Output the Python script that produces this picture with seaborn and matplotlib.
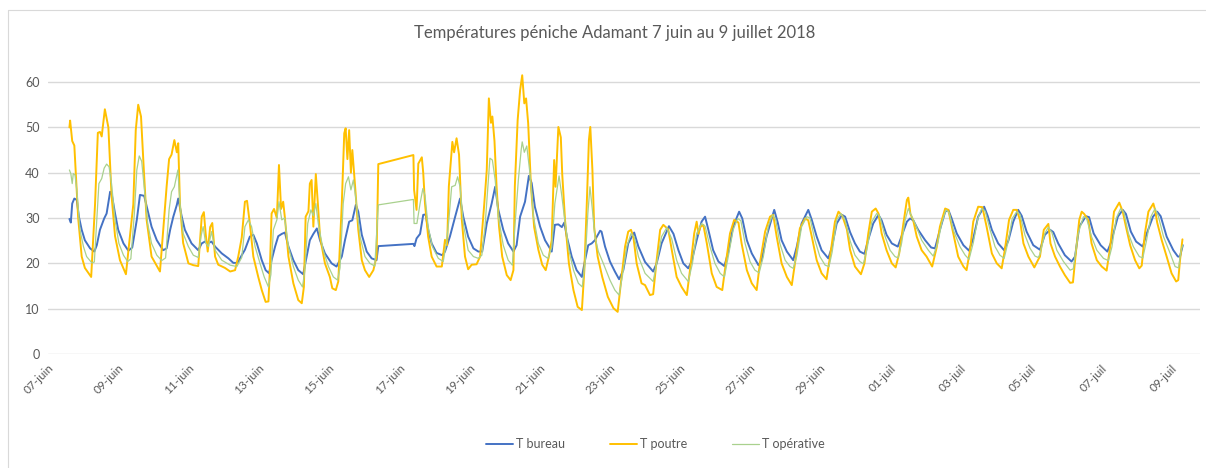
"""Températures péniche Adamant, 7 juin au 9 juillet 2018 (courbes de type Excel)."""
import matplotlib

matplotlib.use("Agg")
import matplotlib.pyplot as plt
import pandas as pd
import seaborn as sns
from matplotlib.lines import Line2D

# jours écoulés depuis le 07-06-2018 00:00
bureau_jours = [
    0.61, 0.65, 0.69, 0.75, 0.82, 0.88, 0.96, 1.05, 1.20, 1.32, 1.39, 1.48, 1.60, 1.67, 1.77, 1.81,
    1.91, 2.00, 2.15, 2.29, 2.40, 2.53, 2.62, 2.74, 2.86, 2.95, 3.10, 3.28, 3.38, 3.48, 3.57, 3.67,
    3.71, 3.81, 3.90, 4.09, 4.28, 4.38, 4.47, 4.57, 4.66, 4.76, 4.95, 5.14, 5.28, 5.40, 5.52, 5.61,
    5.75, 5.85, 5.95, 6.09, 6.20, 6.30, 6.37, 6.47, 6.56, 6.66, 6.75, 6.85, 6.99, 7.13, 7.27, 7.37,
    7.46, 7.56, 7.66, 7.75, 7.89, 8.08, 8.22, 8.37, 8.46, 8.58, 8.67, 8.77, 8.84, 8.94, 9.08, 9.22,
    9.36, 9.41, 10.41, 10.44, 10.50, 10.60, 10.69, 10.76, 10.83, 10.93, 11.07, 11.23, 11.31, 11.45,
    11.60, 11.74, 11.83, 11.97, 12.12, 12.26, 12.37, 12.50, 12.64, 12.74, 12.83, 12.97, 13.11, 13.26,
    13.35, 13.45, 13.59, 13.70, 13.78, 13.87, 14.02, 14.16, 14.30, 14.35, 14.44, 14.54, 14.64, 14.71,
    14.78, 14.92, 15.06, 15.21, 15.30, 15.39, 15.49, 15.58, 15.73, 15.77, 15.87, 16.01, 16.15, 16.27,
    16.39, 16.53, 16.70, 16.82, 17.01, 17.24, 17.34, 17.48, 17.69, 17.82, 17.96, 18.10, 18.24, 18.34,
    18.48, 18.62, 18.72, 18.81, 18.95, 19.10, 19.27, 19.38, 19.52, 19.69, 19.78, 19.91, 20.05, 20.24,
    20.33, 20.47, 20.62, 20.69, 20.79, 20.90, 21.05, 21.23, 21.33, 21.47, 21.66, 21.76, 21.90, 22.04,
    22.23, 22.33, 22.47, 22.62, 22.71, 22.85, 22.99, 23.13, 23.26, 23.37, 23.51, 23.66, 23.75, 23.89,
    24.04, 24.21, 24.32, 24.47, 24.56, 24.65, 24.79, 24.99, 25.16, 25.27, 25.41, 25.56, 25.65, 25.74,
    25.89, 26.08, 26.24, 26.36, 26.50, 26.67, 26.77, 26.89, 27.07, 27.24, 27.36, 27.50, 27.64, 27.74,
    27.88, 28.07, 28.26, 28.40, 28.55, 28.64, 28.78, 28.97, 29.16, 29.26, 29.38, 29.57, 29.66, 29.79,
    29.99, 30.18, 30.28, 30.48, 30.62, 30.71, 30.85, 31.00, 31.19, 31.29, 31.48, 31.60, 31.70, 31.87,
    32.06, 32.19, 32.25, 32.33,
]
bureau_temp = [
    29.8, 29.0, 33.2, 34.3, 34.0, 30.3, 27.4, 25.1, 23.3, 22.6, 24.0, 27.4, 29.9, 31.0, 35.8, 35.5,
    31.0, 27.4, 24.4, 22.8, 23.5, 29.6, 35.1, 34.9, 31.0, 28.1, 25.1, 22.9, 23.3, 27.4, 30.3, 32.9,
    34.3, 30.3, 27.4, 24.4, 22.9, 24.4, 24.8, 24.5, 24.8, 23.7, 22.2, 21.1, 20.1, 20.1, 21.8, 23.0,
    25.9, 26.3, 24.4, 20.7, 18.5, 17.8, 20.7, 23.7, 26.0, 26.5, 26.8, 23.7, 20.7, 18.5, 17.6, 21.5,
    25.1, 26.5, 27.7, 25.1, 22.2, 20.0, 19.3, 21.5, 25.1, 29.2, 29.5, 32.9, 31.4, 26.3, 22.6, 21.1,
    20.7, 23.8, 24.3, 23.8, 25.5, 26.5, 30.7, 30.8, 27.4, 24.4, 22.3, 21.8, 22.6, 25.9,
    30.3, 34.3, 30.3, 25.9, 23.3, 22.6, 22.6, 28.8, 33.2, 36.9, 31.8, 27.4, 24.4, 22.6,
    24.0, 30.3, 33.6, 39.3, 37.7, 32.5, 28.1, 25.1, 23.3, 22.6, 28.5, 28.6, 28.0, 29.0,
    25.9, 21.5, 18.5, 17.0, 20.7, 24.0, 24.4, 25.1, 27.2, 27.0, 23.7, 20.4, 18.2, 16.5,
    18.5, 24.4, 26.8, 23.7, 20.3, 18.2, 20.0, 24.4, 28.2, 26.5, 22.9, 20.0, 18.9, 20.5,
    25.1, 29.2, 30.3, 27.5, 22.9, 20.4, 19.4, 22.5, 28.1, 31.4, 29.9, 25.1, 22.2, 19.6,
    20.7, 25.9, 29.9, 31.8, 29.0, 25.1, 22.6, 20.7, 23.6, 28.8, 31.8, 29.6, 25.9, 22.9,
    21.1, 23.5, 28.8, 30.7, 30.3, 26.9, 24.4, 22.6, 22.1, 25.3, 28.8, 30.7, 29.5, 26.3,
    24.4, 23.7, 26.0, 29.2, 29.9, 29.5, 27.4, 25.1, 23.5, 23.3, 27.4, 31.4, 31.8, 30.0,
    26.6, 24.0, 22.8, 25.5, 30.3, 32.5, 30.5, 27.4, 24.4, 22.9, 25.0, 29.2, 31.8, 30.5,
    27.0, 24.0, 23.0, 26.3, 27.4, 26.9, 24.4, 21.8, 20.4, 21.5, 28.1, 30.4, 30.2, 26.6,
    24.0, 22.6, 24.5, 30.3, 31.8, 30.9, 27.0, 24.8, 23.7, 26.3, 30.3, 31.4, 30.4, 25.9,
    22.9, 21.5, 21.5, 24.0,
]

poutre_jours = [
    0.61, 0.63, 0.69, 0.75, 0.86, 0.96, 1.05, 1.23, 1.34, 1.42, 1.48, 1.53, 1.62, 1.72, 1.81, 1.91,
    2.05, 2.22, 2.43, 2.50, 2.57, 2.65, 2.73, 2.81, 2.95, 3.19, 3.38, 3.45, 3.52, 3.60, 3.67, 3.71,
    3.76, 3.85, 4.00, 4.14, 4.28, 4.38, 4.44, 4.49, 4.55, 4.62, 4.68, 4.76, 4.85, 5.04, 5.19, 5.33,
    5.42, 5.52, 5.61, 5.67, 5.75, 5.85, 5.99, 6.09, 6.20, 6.28, 6.32, 6.37, 6.44, 6.52, 6.58, 6.64,
    6.70, 6.75, 6.85, 6.99, 7.13, 7.23, 7.29, 7.34, 7.42, 7.46, 7.51, 7.56, 7.63, 7.69, 7.75, 7.89,
    8.03, 8.10, 8.20, 8.27, 8.37, 8.44, 8.48, 8.53, 8.58, 8.63, 8.67, 8.75, 8.84, 8.94, 9.03, 9.15,
    9.27, 9.36, 9.41, 10.41, 10.43, 10.50, 10.55, 10.65, 10.69, 10.74, 10.83, 10.93, 11.07, 11.22,
    11.31, 11.37, 11.42, 11.52, 11.57, 11.64, 11.71, 11.79, 11.88, 11.97, 12.07, 12.21, 12.31, 12.43,
    12.50, 12.56, 12.62, 12.66, 12.72, 12.78, 12.85, 12.94, 13.07, 13.18, 13.26, 13.30, 13.38, 13.45,
    13.51, 13.57, 13.62, 13.68, 13.76, 13.85, 13.97, 14.08, 14.18, 14.27, 14.35, 14.42, 14.46, 14.54,
    14.61, 14.65, 14.73, 14.84, 14.97, 15.09, 15.21, 15.28, 15.35, 15.41, 15.45, 15.51, 15.56, 15.66,
    15.79, 15.95, 16.11, 16.23, 16.32, 16.44, 16.53, 16.61, 16.68, 16.77, 16.91, 17.01, 17.15, 17.24,
    17.34, 17.44, 17.53, 17.67, 17.77, 17.91, 18.05, 18.20, 18.29, 18.41, 18.48, 18.53, 18.58, 18.67,
    18.77, 18.91, 19.05, 19.21, 19.31, 19.43, 19.55, 19.67, 19.76, 19.91, 20.05, 20.19, 20.28, 20.43,
    20.57, 20.66, 20.76, 20.90, 21.05, 21.19, 21.28, 21.42, 21.57, 21.66, 21.76, 21.90, 22.04, 22.18,
    22.28, 22.42, 22.52, 22.63, 22.76, 22.85, 22.99, 23.16, 23.26, 23.37, 23.47, 23.58, 23.66, 23.75,
    23.89, 24.04, 24.15, 24.25, 24.37, 24.47, 24.51, 24.57, 24.65, 24.75, 24.89, 25.03, 25.19, 25.32,
    25.41, 25.56, 25.65, 25.79, 25.93, 26.08, 26.17, 26.27, 26.36, 26.50, 26.62, 26.74, 26.89, 27.03,
    27.17, 27.26, 27.38, 27.50, 27.60, 27.69, 27.79, 27.93, 28.10, 28.21, 28.26, 28.37, 28.50, 28.56,
    28.69, 28.83, 28.97, 29.12, 29.20, 29.29, 29.38, 29.45, 29.52, 29.64, 29.73, 29.88, 30.02, 30.16,
    30.26, 30.37, 30.52, 30.62, 30.71, 30.83, 30.97, 31.09, 31.16, 31.25, 31.35, 31.49, 31.54, 31.60,
    31.73, 31.87, 32.01, 32.14, 32.20, 32.25, 32.32,
]
poutre_temp = [
    50.0, 51.5, 47.0, 46.0, 30.0, 21.5, 19.0, 17.0, 33.0, 48.8, 49.0, 48.0, 54.0, 50.0, 35.0, 26.0,
    20.7, 17.6, 33.0, 49.4, 55.0, 52.4, 40.6, 29.6, 21.5, 18.2, 37.0, 43.0, 44.0, 47.2, 44.5, 46.5,
    33.0, 24.5, 20.0, 19.6, 19.4, 30.3, 31.3, 26.7, 22.6, 28.0, 28.9, 21.5, 19.7, 19.0, 18.2, 18.5,
    21.5, 25.7, 33.6, 33.8, 28.8, 21.5, 17.0, 14.1, 11.5, 11.6, 18.5, 31.0, 32.0, 30.0, 41.7, 32.0,
    33.6, 30.0, 21.5, 15.6, 11.9, 11.2, 14.8, 30.3, 31.5, 37.6, 38.4, 28.1, 39.7, 33.0, 25.9, 20.0,
    17.0, 14.5, 14.1, 16.0, 33.2, 48.7, 49.8, 43.0, 49.4, 40.0, 45.0, 36.9, 27.4, 20.7, 18.5, 17.0,
    18.5, 21.5, 41.9, 43.9, 36.2, 31.8, 42.0, 43.4, 40.0, 33.2, 25.9, 21.5, 19.3, 19.3,
    25.2, 24.0, 37.0, 46.8, 44.5, 47.6, 44.0, 29.6, 21.5, 18.7, 19.7, 19.8, 21.5, 33.2,
    40.6, 56.4, 51.0, 52.4, 47.0, 36.9, 28.1, 21.5, 17.4, 16.3, 18.5, 37.0, 51.6, 58.2,
    61.5, 55.3, 56.4, 50.9, 36.9, 28.0, 23.0, 19.7, 18.5, 21.5, 25.1, 42.8, 36.9, 50.1,
    47.8, 39.7, 29.6, 20.0, 14.1, 10.4, 9.7, 18.5, 33.2, 47.2, 50.1, 40.6, 28.0, 21.5,
    17.0, 12.6, 10.1, 9.3, 15.6, 23.7, 27.0, 27.4, 25.7, 20.0, 15.6, 15.2, 13.0, 13.2,
    20.7, 27.4, 28.5, 27.5, 23.0, 17.0, 14.8, 13.0, 18.5, 26.6, 29.2, 26.5, 28.0, 28.5,
    24.4, 17.8, 14.8, 14.1, 20.0, 26.6, 29.6, 29.0, 24.4, 18.5, 15.6, 14.1, 20.0, 27.0,
    30.3, 30.7, 25.9, 20.0, 17.0, 15.2, 20.0, 27.7, 29.9, 29.5, 25.9, 20.7, 17.8, 16.5,
    21.5, 29.2, 31.4, 30.5, 27.5, 23.0, 19.3, 17.6, 20.0, 26.6, 31.4, 32.1, 31.0, 26.6,
    22.9, 20.0, 19.1, 22.2, 28.8, 34.0, 34.5, 30.9, 29.5, 25.9, 22.9, 21.5, 19.3, 23.6,
    28.1, 32.1, 31.8, 26.6, 21.5, 19.3, 18.5, 23.0, 29.2, 32.5, 32.4, 28.1, 22.2, 20.0,
    18.9, 23.0, 29.6, 31.8, 31.8, 29.6, 24.4, 21.5, 19.1, 20.8, 21.5, 27.4, 28.7, 24.4,
    21.5, 19.3, 17.4, 15.7, 15.8, 22.9, 29.6, 31.4, 30.9, 29.5, 24.4, 20.7, 19.3, 18.4,
    23.6, 31.4, 33.4, 31.4, 28.1, 24.0, 20.7, 18.9, 19.5, 26.6, 31.4, 33.2, 31.8, 29.0,
    25.1, 21.5, 17.8, 16.0, 16.3, 20.7, 25.3,
]

operative_jours = [
    0.61, 0.65, 0.69, 0.72, 0.77, 0.82, 0.91, 1.01, 1.10, 1.25, 1.32, 1.39, 1.45, 1.53, 1.60, 1.67,
    1.74, 1.81, 1.91, 2.02, 2.15, 2.27, 2.36, 2.46, 2.53, 2.60, 2.67, 2.74, 2.84, 2.95, 3.10, 3.24,
    3.35, 3.45, 3.52, 3.60, 3.70, 3.76, 3.85, 4.00, 4.14, 4.28, 4.36, 4.42, 4.49, 4.57, 4.66, 4.76,
    4.95, 5.19, 5.38, 5.52, 5.61, 5.71, 5.80, 5.90, 6.04, 6.16, 6.28, 6.35, 6.42, 6.52, 6.58, 6.66,
    6.74, 6.85, 6.99, 7.13, 7.25, 7.32, 7.40, 7.49, 7.56, 7.63, 7.70, 7.84, 7.99, 8.13, 8.25, 8.32,
    8.41, 8.48, 8.56, 8.63, 8.70, 8.77, 8.89, 9.03, 9.17, 9.31, 9.41, 10.41, 10.43, 10.51, 10.60,
    10.68, 10.74, 10.83, 10.95, 11.12, 11.26, 11.36, 11.42, 11.50, 11.60, 11.67, 11.74, 11.83, 11.97,
    12.12, 12.26, 12.36, 12.45, 12.53, 12.59, 12.66, 12.74, 12.83, 12.97, 13.11, 13.23, 13.30, 13.40,
    13.48, 13.51, 13.57, 13.64, 13.73, 13.83, 13.97, 14.11, 14.24, 14.35, 14.44, 14.56, 14.64, 14.71,
    14.84, 14.97, 15.11, 15.22, 15.30, 15.38, 15.44, 15.51, 15.58, 15.68, 15.82, 16.01, 16.15, 16.27,
    16.36, 16.49, 16.61, 16.70, 16.82, 17.01, 17.24, 17.34, 17.48, 17.63, 17.77, 17.91, 18.05, 18.24,
    18.36, 18.48, 18.62, 18.72, 18.86, 19.00, 19.15, 19.27, 19.38, 19.52, 19.65, 19.74, 19.86, 20.00,
    20.14, 20.26, 20.38, 20.52, 20.64, 20.73, 20.85, 21.00, 21.14, 21.23, 21.33, 21.47, 21.62, 21.71,
    21.85, 21.99, 22.14, 22.25, 22.34, 22.47, 22.59, 22.71, 22.85, 22.99, 23.13, 23.23, 23.33, 23.47,
    23.61, 23.70, 23.85, 23.99, 24.13, 24.22, 24.32, 24.42, 24.51, 24.61, 24.72, 24.89, 25.08, 25.22,
    25.35, 25.46, 25.58, 25.67, 25.79, 25.98, 26.13, 26.24, 26.36, 26.49, 26.60, 26.70, 26.84, 26.98,
    27.12, 27.24, 27.36, 27.47, 27.60, 27.69, 27.83, 27.98, 28.12, 28.21, 28.26, 28.40, 28.50, 28.60,
    28.74, 28.93, 29.12, 29.21, 29.35, 29.50, 29.59, 29.73, 29.88, 30.07, 30.21, 30.31, 30.43, 30.56,
    30.65, 30.78, 30.92, 31.09, 31.19, 31.29, 31.42, 31.54, 31.63, 31.78, 31.97, 32.11, 32.21, 32.28,
    32.33,
]
operative_temp = [
    40.6, 39.8, 37.6, 39.8, 39.5, 36.2, 27.4, 23.7, 21.5, 20.1, 20.3, 29.6, 37.6, 38.7, 41.0, 41.9,
    41.3, 37.6, 29.6, 24.4, 21.8, 20.4, 21.0, 31.0, 40.6, 43.7, 42.5, 36.9, 28.8, 24.4, 21.8, 20.6,
    21.2, 31.8, 35.8, 36.9, 40.6, 33.2, 26.6, 23.7, 21.8, 21.3, 26.0, 28.1, 24.5, 23.7, 27.0, 22.9,
    20.7, 19.6, 19.3, 21.3, 28.1, 29.6, 28.1, 23.7, 20.0, 17.0, 14.8, 17.5, 27.4, 29.6, 33.6, 29.6,
    30.0, 23.7, 19.3, 16.3, 14.8, 18.5, 28.8, 31.8, 30.5, 33.2, 28.8, 22.9, 19.3, 17.0, 16.3, 19.0,
    33.2, 37.6, 39.1, 36.2, 38.4, 34.3, 25.9, 21.5, 20.0, 19.4, 32.9, 34.1, 28.8, 28.8, 33.2,
    36.5, 35.0, 28.1, 23.7, 21.1, 20.4, 25.0, 29.6, 36.9, 37.2, 39.1, 36.9, 28.8, 22.9,
    21.5, 21.1, 21.8, 28.1, 36.9, 43.2, 42.8, 38.4, 30.3, 24.0, 20.7, 19.6, 28.0, 38.4,
    45.0, 46.8, 44.5, 45.9, 39.9, 30.3, 24.4, 21.8, 21.1, 23.5, 33.2, 39.3, 34.8, 30.3,
    22.9, 18.5, 15.6, 14.8, 20.0, 31.0, 36.9, 31.8, 25.9, 22.6, 20.0, 16.3, 14.1, 13.0,
    17.0, 23.7, 26.6, 25.9, 21.5, 17.8, 16.0, 20.0, 25.9, 27.9, 25.4, 20.7, 17.8, 16.0,
    20.0, 26.6, 28.8, 28.2, 23.7, 20.0, 17.8, 17.0, 21.5, 27.4, 29.9, 29.4, 24.4, 20.4,
    18.5, 17.9, 21.5, 28.1, 30.7, 29.7, 24.4, 20.7, 19.3, 18.9, 21.5, 28.1, 30.3, 30.0,
    25.1, 21.5, 19.6, 19.3, 22.5, 29.6, 31.0, 29.5, 25.0, 21.8, 20.4, 19.9, 23.0, 29.2,
    31.0, 30.3, 25.9, 22.9, 21.5, 21.2, 24.5, 29.6, 32.1, 30.3, 28.5, 25.1, 22.9, 21.6,
    24.5, 28.8, 31.8, 31.2, 27.4, 23.7, 21.8, 20.9, 24.5, 29.9, 32.1, 31.5, 27.4, 23.7,
    21.8, 21.1, 25.0, 29.9, 31.4, 30.8, 26.3, 23.3, 21.6, 21.3, 22.0, 26.6, 28.0, 26.8,
    22.9, 20.4, 18.5, 18.8, 26.6, 30.3, 29.9, 25.9, 22.9, 21.1, 20.6, 23.6, 29.9, 32.1,
    31.3, 26.6, 23.7, 21.5, 21.2, 24.8, 30.3, 32.1, 30.5, 25.9, 22.2, 19.3, 19.0, 22.9,
    24.0,
]

noms_series = ["T bureau", "T poutre", "T opérative"]
couleurs = ["#4472C4", "#FFC000", "#A9D18E"]
etiquettes_x = [
    "07-juin", "09-juin", "11-juin", "13-juin", "15-juin", "17-juin", "19-juin", "21-juin",
    "23-juin", "25-juin", "27-juin", "29-juin", "01-juil", "03-juil", "05-juil", "07-juil", "09-juil",
]
graduations_y = [0, 10, 20, 30, 40, 50, 60]
titre = "Températures péniche Adamant 7 juin au 9 juillet 2018"

debut = pd.Timestamp("2018-06-07")
frames = []
for nom, jours, temp in [
    (noms_series[0], bureau_jours, bureau_temp),
    (noms_series[1], poutre_jours, poutre_temp),
    (noms_series[2], operative_jours, operative_temp),
]:
    frames.append(
        pd.DataFrame(
            {
                "time": debut + pd.to_timedelta(jours, unit="D"),
                "temp": temp,
                "serie": nom,
            }
        )
    )
df = pd.concat(frames, ignore_index=True)

sns.set_style("white")
plt.rcParams["font.family"] = ["Lato", "DejaVu Sans"]
gris = "#595959"

fig = plt.figure(figsize=(12.06, 4.68), dpi=100)
ax = fig.add_axes([48 / 1206, 114 / 468, 1152 / 1206, 281 / 468])

largeurs = {"T bureau": 1.4, "T poutre": 1.4, "T opérative": 0.9}
for nom, couleur in zip(noms_series, couleurs):
    sns.lineplot(
        data=df[df["serie"] == nom],
        x="time",
        y="temp",
        color=couleur,
        linewidth=largeurs[nom],
        estimator=None,
        sort=False,
        legend=False,
        ax=ax,
    )

ax.set_ylim(0, 62)
ax.set_xlim(debut, debut + pd.Timedelta(days=32.82))
ax.set_yticks(graduations_y)
ax.set_yticklabels([str(v) for v in graduations_y], fontsize=9, color=gris)
ticks_x = pd.date_range(debut, periods=len(etiquettes_x), freq="2D")
ax.set_xticks(ticks_x)
ax.set_xticklabels(etiquettes_x, rotation=45, ha="right", rotation_mode="anchor", fontsize=8.5, color=gris)
ax.tick_params(axis="both", length=0, pad=6)
ax.grid(axis="y", color="#D9D9D9", linewidth=1)
ax.set_axisbelow(True)
for sp in ax.spines.values():
    sp.set_visible(False)
ax.set_xlabel("")
ax.set_ylabel("")

fig.text(615 / 1206, 1 - 33 / 468, titre, ha="center", va="center", fontsize=12, color=gris)

fig.legend(
    handles=ax.lines[:3],
    labels=noms_series,
    loc="center",
    bbox_to_anchor=(655 / 1206, 24 / 468),
    ncol=3,
    frameon=False,
    fontsize=9,
    handlelength=2.2,
    handletextpad=0.2,
    columnspacing=3.6,
    labelcolor=gris,
)

# bord de la zone de graphique
bord = "#D9D9D9"
fig.add_artist(Line2D([8 / 1206, 8 / 1206], [0, 1 - 10 / 468], transform=fig.transFigure, color=bord, lw=0.8))
fig.add_artist(Line2D([8 / 1206, 1], [1 - 10 / 468, 1 - 10 / 468], transform=fig.transFigure, color=bord, lw=0.8))

fig.savefig("out.png", dpi=100)
